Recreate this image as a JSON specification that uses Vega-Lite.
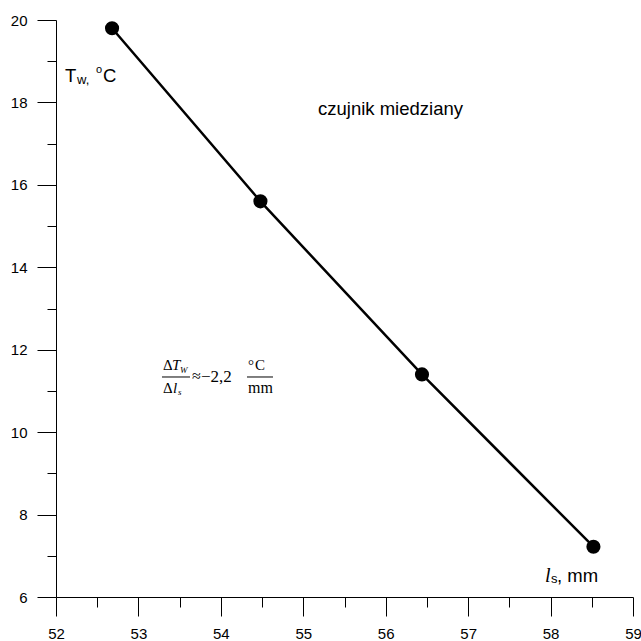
{
  "$schema": "https://vega.github.io/schema/vega-lite/v6.json",
  "width": 577,
  "height": 577,
  "autosize": {"type": "none"},
  "padding": {"left": 56, "top": 20, "right": 8, "bottom": 44},
  "background": "white",
  "config": {
    "view": {"stroke": null},
    "axis": {
      "domainColor": "black", "domainWidth": 1, "tickColor": "black", "tickWidth": 1,
      "labelFont": "Liberation Sans", "labelFontSize": 15, "labelColor": "black",
      "grid": false, "title": null
    },
    "text": {"font": "Liberation Sans", "color": "black", "align": "left", "baseline": "alphabetic"}
  },
  "encoding": {
    "x": {
      "field": "x", "type": "quantitative",
      "scale": {"domain": [52, 59], "nice": false, "zero": false},
      "axis": {
        "values": [52, 52.5, 53, 53.5, 54, 54.5, 55, 55.5, 56, 56.5, 57, 57.5, 58, 58.5, 59],
        "tickSize": {"condition": {"test": "datum.value % 1 !== 0", "value": 10}, "value": 19},
        "labelExpr": "datum.value % 1 !== 0 ? '' : format(datum.value, 'd')",
        "labelPadding": 10,
        "labelFlush": false,
        "labelOverlap": false
      }
    },
    "y": {
      "field": "y", "type": "quantitative",
      "scale": {"domain": [6, 20], "nice": false, "zero": false},
      "axis": {
        "values": [6, 7, 8, 9, 10, 11, 12, 13, 14, 15, 16, 17, 18, 19, 20],
        "tickSize": {"condition": {"test": "datum.value % 2 === 1", "value": 9}, "value": 19},
        "labelExpr": "datum.value % 2 === 1 ? '' : format(datum.value, 'd')",
        "labelPadding": 10,
        "labelFlush": false,
        "labelOverlap": false
      }
    }
  },
  "layer": [
    {
      "data": {"values": [
        {"x": 52.68, "y": 19.8},
        {"x": 54.48, "y": 15.6},
        {"x": 56.44, "y": 11.4},
        {"x": 58.52, "y": 7.22}
      ]},
      "layer": [
        {"mark": {"type": "line", "color": "black", "strokeWidth": 2.5}, "encoding": {}},
        {"mark": {"type": "point", "filled": true, "shape": "circle", "color": "black", "opacity": 1, "size": 200}, "encoding": {}}
      ]
    },
    {
      "data": {"values": [{"x": 52.1092, "y": 18.4957}]},
      "layer": [
        {"mark": {"type": "text", "text": "T", "fontSize": 18.5, "dx": 0, "dy": 0}},
        {"mark": {"type": "text", "text": "w,", "fontSize": 13, "dx": 12, "dy": 2}},
        {"mark": {"type": "text", "text": "o", "fontSize": 11, "dx": 31, "dy": -9}},
        {"mark": {"type": "text", "text": "C", "fontSize": 18.5, "dx": 38, "dy": 0}}
      ]
    },
    {
      "data": {"values": [{"x": 55.1785, "y": 17.695}]},
      "mark": {"type": "text", "text": "czujnik miedziany", "fontSize": 18.5}
    },
    {
      "data": {"values": [{"x": 57.9323, "y": 6.364}]},
      "layer": [
        {"mark": {"type": "text", "text": "l", "font": "Liberation Serif", "fontStyle": "italic", "fontSize": 20, "dx": 0, "dy": 0}},
        {"mark": {"type": "text", "text": "s", "fontSize": 13, "dx": 6, "dy": 1}},
        {"mark": {"type": "text", "text": ", mm", "fontSize": 18.5, "dx": 12, "dy": 0}}
      ]
    },
    {
      "data": {"values": [
        {"x": 53.2859, "x2": 53.6256, "y": 11.338},
        {"x": 54.3171, "x2": 54.6325, "y": 11.338}
      ]},
      "mark": {"type": "rule", "color": "black", "strokeWidth": 1},
      "encoding": {"x2": {"field": "x2"}}
    },
    {
      "data": {"values": [{"x": 53.2859, "y": 11.338}]},
      "layer": [
        {"mark": {"type": "text", "text": "Δ", "font": "Liberation Serif", "fontSize": 15, "dx": 1, "dy": -7}},
        {"mark": {"type": "text", "text": "T", "font": "Liberation Serif", "fontStyle": "italic", "fontSize": 15, "dx": 10, "dy": -7}},
        {"mark": {"type": "text", "text": "W", "font": "Liberation Serif", "fontStyle": "italic", "fontSize": 9, "dx": 18, "dy": -4}},
        {"mark": {"type": "text", "text": "Δ", "font": "Liberation Serif", "fontSize": 15, "dx": 1, "dy": 16}},
        {"mark": {"type": "text", "text": "l", "font": "Liberation Serif", "fontStyle": "italic", "fontSize": 15, "dx": 11, "dy": 16}},
        {"mark": {"type": "text", "text": "s", "font": "Liberation Serif", "fontStyle": "italic", "fontSize": 9, "dx": 16, "dy": 18}},
        {"mark": {"type": "text", "text": "≈", "font": "Liberation Serif", "fontSize": 16, "dx": 30, "dy": 4}},
        {"mark": {"type": "text", "text": "−2,2", "font": "Liberation Serif", "fontSize": 17, "dx": 39, "dy": 5}},
        {"mark": {"type": "text", "text": "°", "font": "Liberation Serif", "fontSize": 15, "dx": 86, "dy": -7}},
        {"mark": {"type": "text", "text": "C", "font": "Liberation Serif", "fontSize": 15, "dx": 93, "dy": -7}},
        {"mark": {"type": "text", "text": "mm", "font": "Liberation Serif", "fontSize": 16, "dx": 86, "dy": 16}}
      ]
    }
  ]
}
